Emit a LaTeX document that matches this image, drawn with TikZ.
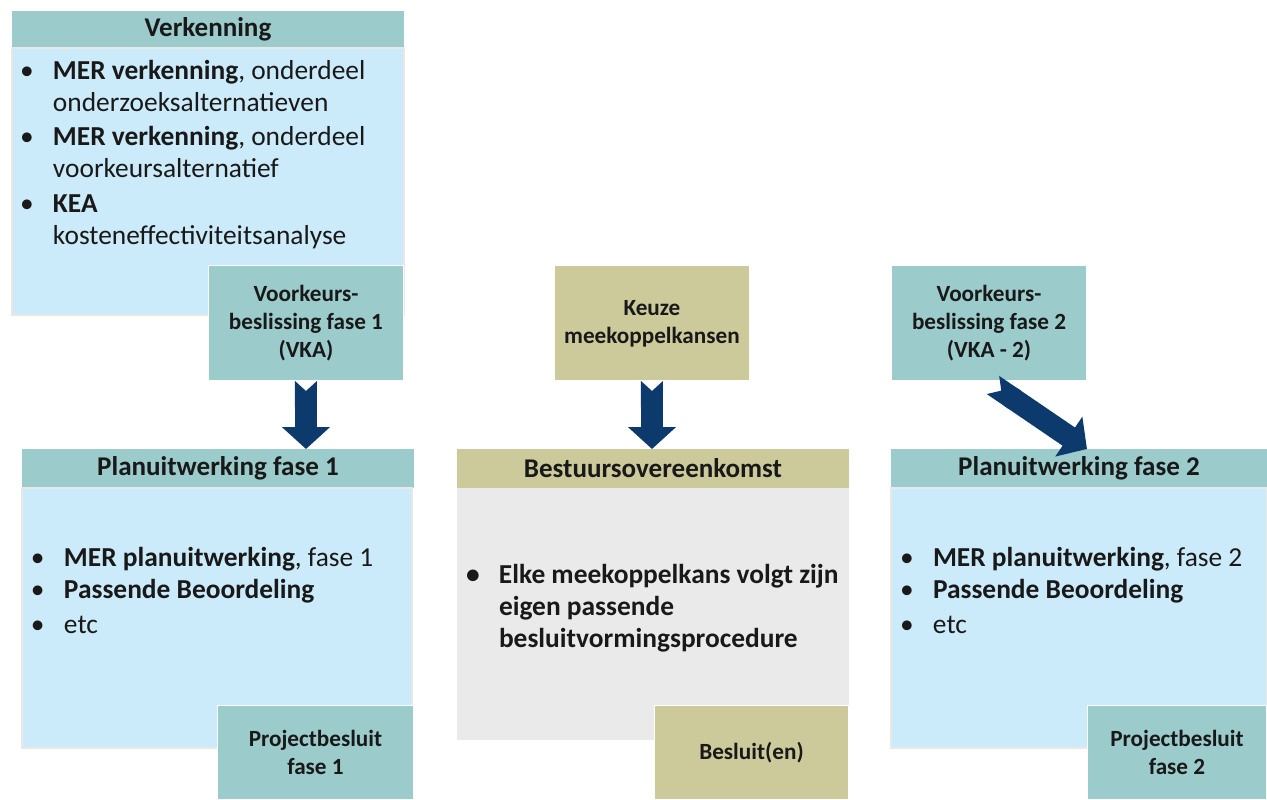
\documentclass[tikz,border=0pt]{standalone}
\usepackage{fontspec}
\setmainfont{Carlito}
\usetikzlibrary{arrows.meta, calc}
\definecolor{kopteal}{HTML}{9BCBCB}
\definecolor{lichtblauw}{HTML}{CCEBFA}
\definecolor{olijf}{HTML}{CCCA9A}
\definecolor{lichtgrijs}{HTML}{EAEAEA}
\definecolor{pijlblauw}{HTML}{0C3A6C}
\newcommand{\bul}{\makebox[0.66cm][l]{\textbullet}}
\newcommand{\ind}{\hspace*{0.66cm}}

\begin{document}
\begin{tikzpicture}[x=0.02cm, y=-0.02cm, >={Triangle[length=0.44cm, width=0.94cm]},
  every node/.style={font=\fontsize{15.6}{18.4}\selectfont, text=black!90, inner sep=0pt, outer sep=0pt},
  kop/.style={anchor=north west, minimum height=0.78cm, font=\fontsize{15.4}{18}\selectfont\bfseries},
  romp/.style={anchor=north west, draw=black!9, line width=0.05cm},
  beslis/.style={anchor=north west, draw=white, line width=0.02cm, minimum width=3.92cm, minimum height=2.3cm, align=center, font=\fontsize{13.2}{16}\selectfont\bfseries},
  lijst/.style={anchor=north west, align=left},
  blokpijl/.style={pijlblauw, line width=0.44cm, {Triangle Cap[reversed, length=0.2cm]}->}]
  \useasboundingbox (0,0) rectangle (1267,800);

  % verkenning
  \node[kop, fill=kopteal, minimum width=7.84cm, minimum height=0.74cm] (verkkop) at (12,11) {Verkenning};
  \node[romp, fill=lichtblauw, minimum width=7.84cm, minimum height=5.34cm] (verkromp) at (12,48) {};
  \node[lijst] (verklijst) at (20,60) {\bul\textbf{MER verkenning}, onderdeel\\ \ind onderzoeksalternatieven\\[1pt]
    \bul\textbf{MER verkenning}, onderdeel\\ \ind voorkeursalternatief\\[1pt]
    \bul\textbf{KEA}\\ \ind kosteneffectiviteitsanalyse};
  \node[beslis, fill=kopteal] (vka1) at (208,266) {Voorkeurs-\\beslissing fase 1\\(VKA)};

  % planuitwerking fase 1
  \node[kop, fill=kopteal, minimum width=7.84cm] (plan1kop) at (22,449) {Planuitwerking fase 1};
  \node[romp, fill=lichtblauw, minimum width=7.8cm, minimum height=5.2cm] (plan1romp) at (22,488) {};
  \node[lijst] (plan1lijst) at (31,547) {\bul\textbf{MER planuitwerking}, fase 1\\
    \bul\textbf{Passende Beoordeling}\\[1.5pt] \bul etc};
  \node[beslis, fill=kopteal, minimum width=3.94cm, minimum height=1.9cm] (pb1) at (217,705) {Projectbesluit\\fase 1};

  % meekoppelkansen
  \node[beslis, fill=olijf] (keuze) at (554,266) {Keuze\\meekoppelkansen};
  \node[kop, fill=olijf, minimum width=7.84cm] (bestuurkop) at (457,449) {Bestuursovereenkomst};
  \node[romp, fill=lichtgrijs, draw=none, minimum width=7.84cm, minimum height=5.04cm] (bestuurromp) at (457,488) {};
  \node[lijst, font=\fontsize{15.6}{18.4}\selectfont\bfseries] (bestuurlijst) at (466,564) {\bul Elke meekoppelkans volgt zijn\\
    \ind eigen passende\\ \ind besluitvormingsprocedure};
  \node[beslis, fill=olijf, minimum width=3.9cm, minimum height=1.9cm] (besluit) at (654,705) {Besluit(en)};

  % planuitwerking fase 2
  \node[beslis, fill=kopteal] (vka2) at (891,266) {Voorkeurs-\\beslissing fase 2\\(VKA - 2)};
  \node[kop, fill=kopteal, minimum width=7.52cm] (plan2kop) at (891,449) {Planuitwerking fase 2};
  \node[romp, fill=lichtblauw, minimum width=7.52cm, minimum height=5.2cm] (plan2romp) at (891,488) {};
  \node[lijst] (plan2lijst) at (900,547) {\bul\textbf{MER planuitwerking}, fase 2\\
    \bul\textbf{Passende Beoordeling}\\[1.5pt] \bul etc};
  \node[beslis, fill=kopteal, minimum width=3.6cm, minimum height=1.9cm] (pb2) at (1087,705) {Projectbesluit\\fase 2};

  % pijlen
  \draw[blokpijl] (vka1.south) -- (vka1.south |- plan1kop.north);
  \draw[blokpijl] (keuze.south) -- (keuze.south |- bestuurkop.north);
  \draw[blokpijl] ($(vka2.south)+(4,4)$) -- (vka2.south east |- plan2kop.north);
\end{tikzpicture}
\end{document}
